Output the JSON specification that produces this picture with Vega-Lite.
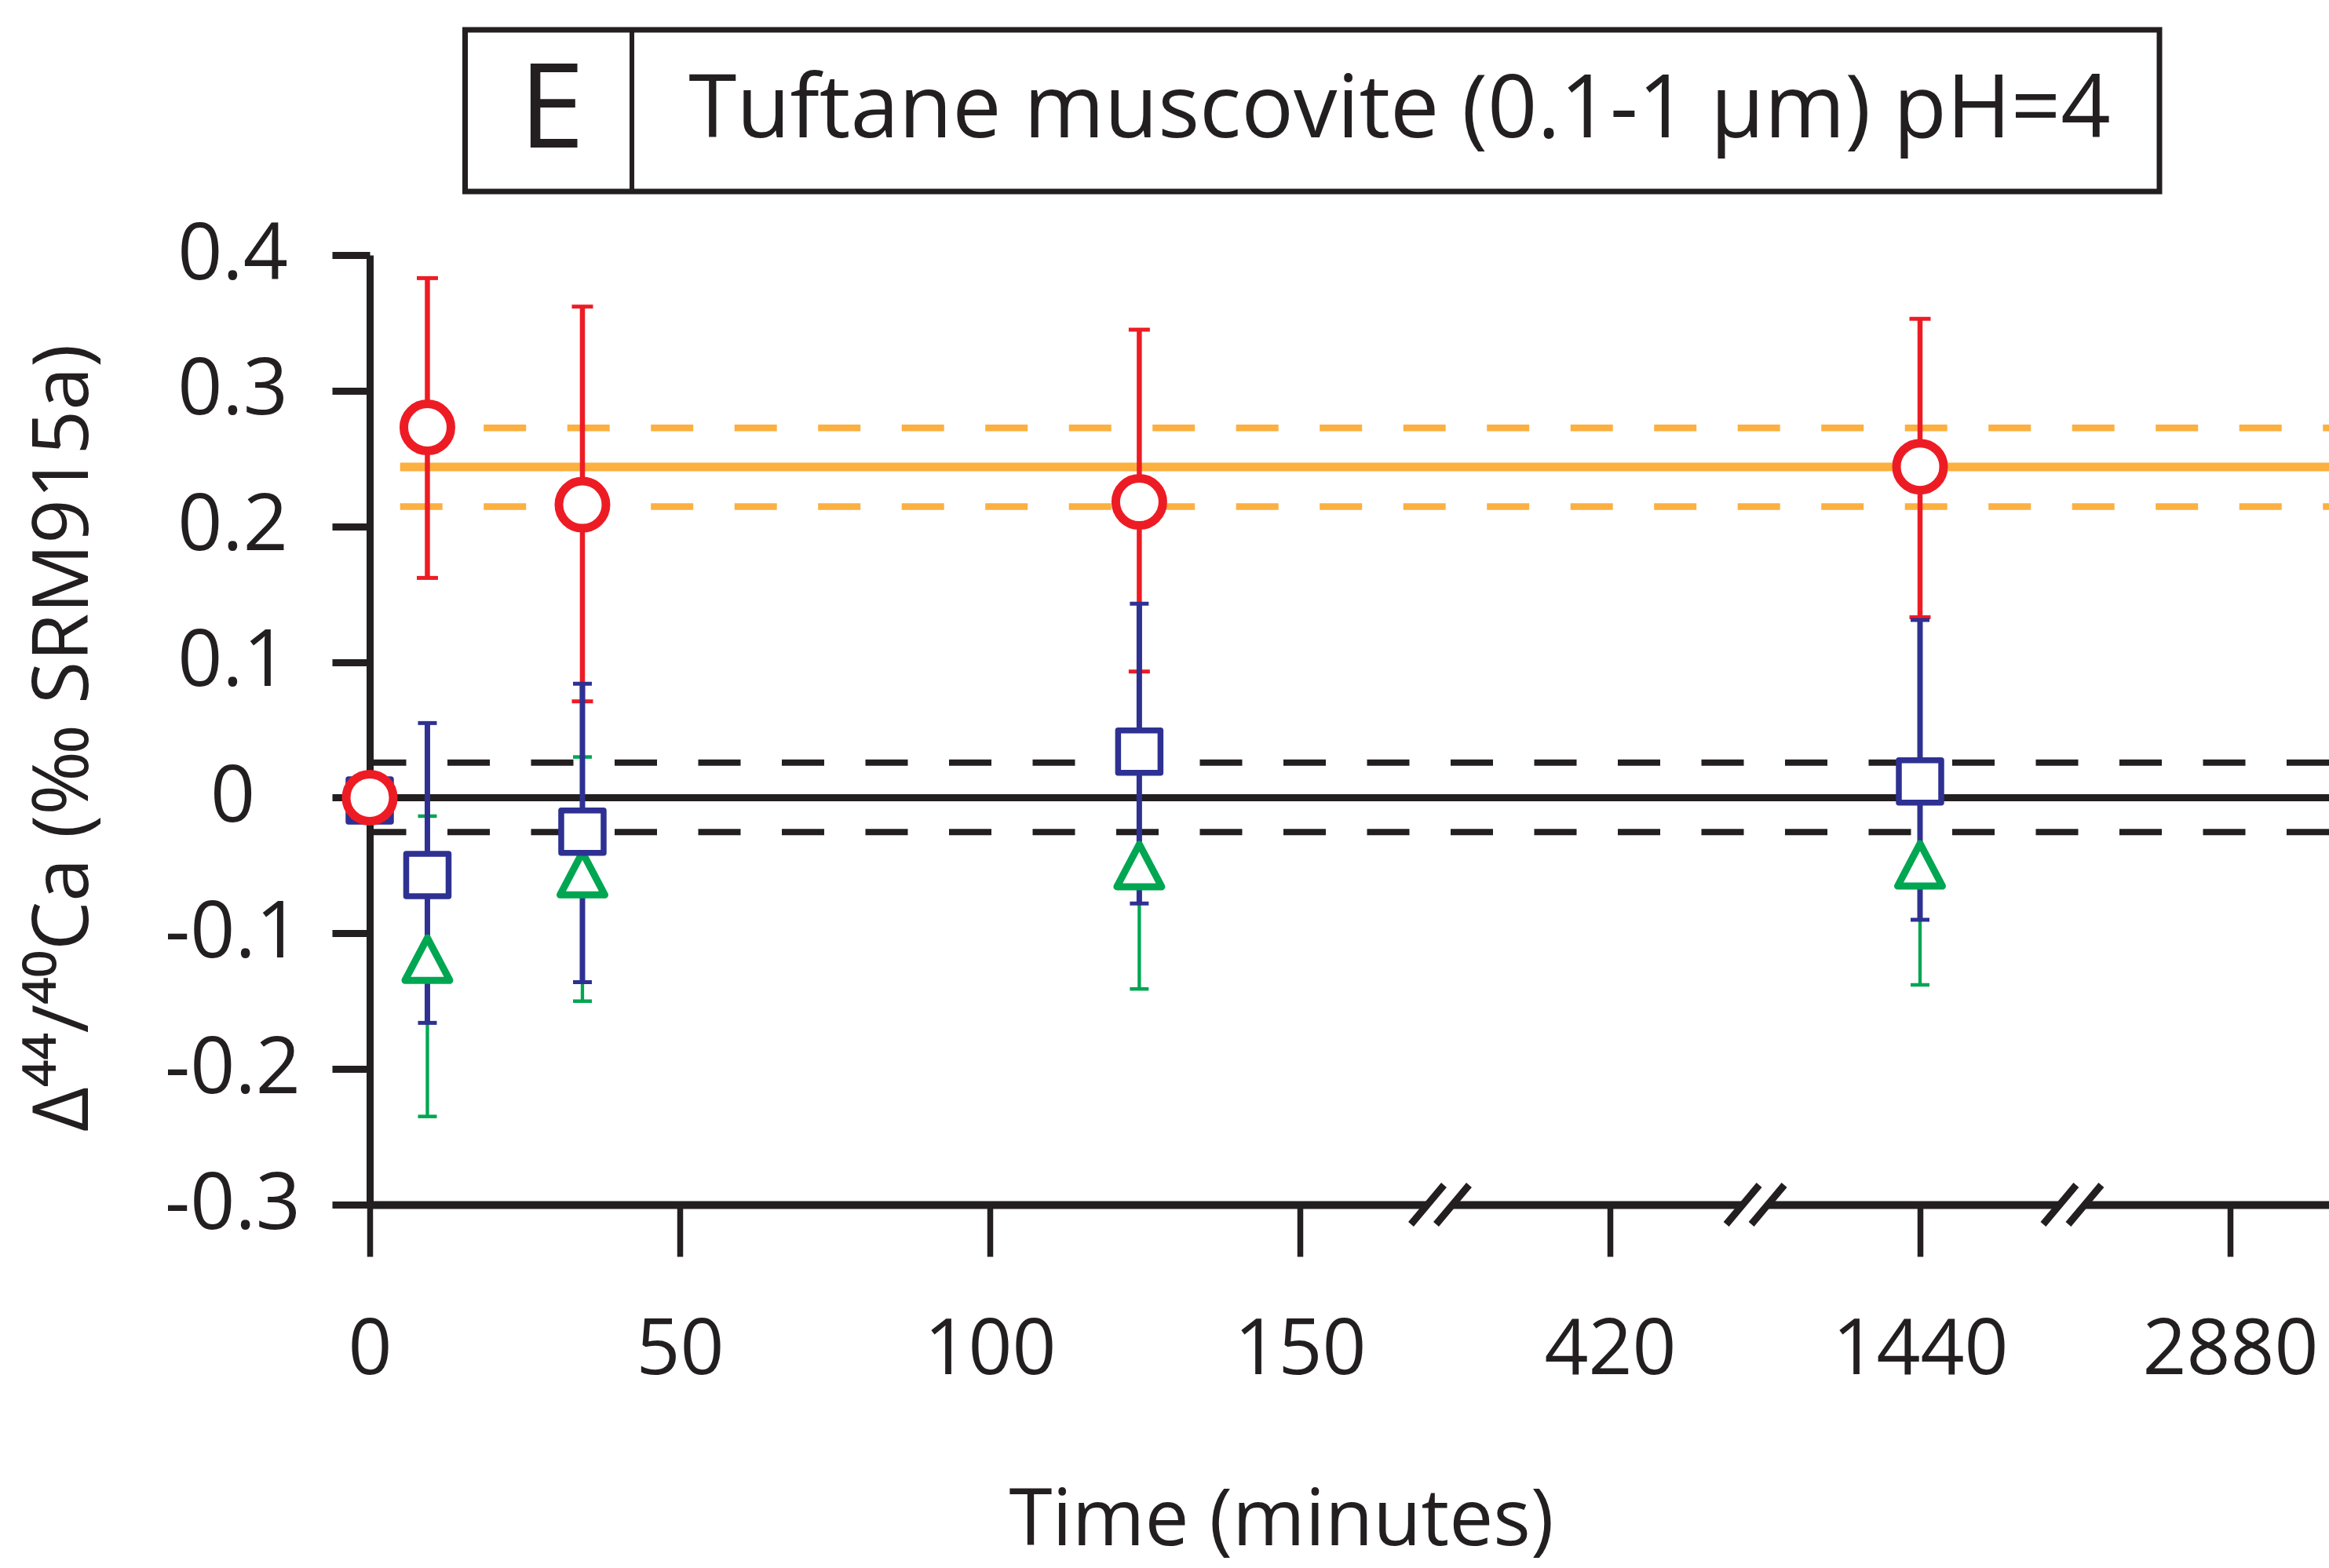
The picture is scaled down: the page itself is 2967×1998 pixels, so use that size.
{
  "$schema": "https://vega.github.io/schema/vega-lite/v6.json",
  "autosize": {"type": "none"},
  "padding": {"left": 471, "top": 325, "right": 0, "bottom": 463},
  "width": 2496,
  "height": 1210,
  "background": "white",
  "config": {"view": {"stroke": null}, "font": "Open Sans"},
  "datasets": {
    "measurements": [
      {"series": "A", "t": 0, "delta": 0, "lo": null, "hi": null},
      {"series": "A", "t": 9.3, "delta": 0.273, "lo": 0.162, "hi": 0.383},
      {"series": "A", "t": 34.3, "delta": 0.216, "lo": 0.071, "hi": 0.362},
      {"series": "A", "t": 124.1, "delta": 0.218, "lo": 0.093, "hi": 0.345},
      {"series": "A", "t": 1440, "delta": 0.244, "lo": 0.133, "hi": 0.353},
      {"series": "B", "t": 0, "delta": -0.002, "lo": null, "hi": null},
      {"series": "B", "t": 9.3, "delta": -0.057, "lo": -0.166, "hi": 0.055},
      {"series": "B", "t": 34.3, "delta": -0.025, "lo": -0.136, "hi": 0.084},
      {"series": "B", "t": 124.1, "delta": 0.034, "lo": -0.078, "hi": 0.143},
      {"series": "B", "t": 1440, "delta": 0.012, "lo": -0.09, "hi": 0.131},
      {"series": "C", "t": 9.3, "delta": -0.119, "lo": -0.235, "hi": -0.0136},
      {"series": "C", "t": 34.3, "delta": -0.056, "lo": -0.15, "hi": 0.03},
      {"series": "C", "t": 124.1, "delta": -0.05, "lo": -0.141, "hi": 0.041},
      {"series": "C", "t": 1440, "delta": -0.0495, "lo": -0.138, "hi": 0.025}
    ],
    "references": [
      {"series": "standard", "kind": "mean", "delta": 0},
      {"series": "standard", "kind": "bound", "delta": 0.0258},
      {"series": "standard", "kind": "bound", "delta": -0.0253},
      {"series": "muscovite", "kind": "mean", "delta": 0.2438},
      {"series": "muscovite", "kind": "bound", "delta": 0.2726},
      {"series": "muscovite", "kind": "bound", "delta": 0.2146}
    ],
    "breaks": [{"t": 272}, {"t": 898}, {"t": 2147}],
    "header": [{"panel": "E", "title": "Tuftane muscovite (0.1-1 µm) pH=4"}]
  },
  "layer": [
    {
      "data": {"name": "references"},
      "transform": [{"filter": "datum.series === 'standard' && datum.kind === 'mean'"}],
      "mark": {"type": "rule", "color": "#231F20", "strokeWidth": 9},
      "encoding": {
        "y": {"field": "delta", "type": "quantitative", "scale": {"type": "linear", "domain": [-0.3, 0.4], "nice": false, "zero": false}}
      }
    },
    {
      "data": {"name": "references"},
      "transform": [{"filter": "datum.series === 'standard' && datum.kind === 'bound'"}],
      "mark": {"type": "rule", "color": "#231F20", "strokeWidth": 8, "strokeDash": [54, 52.5]},
      "encoding": {
        "y": {"field": "delta", "type": "quantitative", "scale": {"type": "linear", "domain": [-0.3, 0.4], "nice": false, "zero": false}}
      }
    },
    {
      "data": {"name": "references"},
      "transform": [{"filter": "datum.series === 'muscovite' && datum.kind === 'mean'"}],
      "mark": {"type": "rule", "color": "#FBB040", "strokeWidth": 11},
      "encoding": {
        "x": {"datum": 4.9, "type": "quantitative", "scale": {"type": "linear", "domain": [0, 150, 420, 1440, 2880, 3340], "range": [0, 1185, 1580, 1975, 2370, 2496], "nice": false, "zero": false}},
        "x2": {"datum": 3340},
        "y": {"field": "delta", "type": "quantitative", "scale": {"type": "linear", "domain": [-0.3, 0.4], "nice": false, "zero": false}}
      }
    },
    {
      "data": {"name": "references"},
      "transform": [{"filter": "datum.series === 'muscovite' && datum.kind === 'bound'"}],
      "mark": {"type": "rule", "color": "#FBB040", "strokeWidth": 8.5, "strokeDash": [54, 52.5]},
      "encoding": {
        "x": {"datum": 4.9, "type": "quantitative", "scale": {"type": "linear", "domain": [0, 150, 420, 1440, 2880, 3340], "range": [0, 1185, 1580, 1975, 2370, 2496], "nice": false, "zero": false}},
        "x2": {"datum": 3340},
        "y": {"field": "delta", "type": "quantitative", "scale": {"type": "linear", "domain": [-0.3, 0.4], "nice": false, "zero": false}}
      }
    },
    {
      "data": {"name": "measurements"},
      "transform": [{"filter": "datum.series === 'A' && isValid(datum.lo)"}],
      "mark": {"type": "rule", "color": "#ED1C24", "strokeWidth": 6.5, "opacity": 1},
      "encoding": {
        "x": {"field": "t", "type": "quantitative", "scale": {"type": "linear", "domain": [0, 150, 420, 1440, 2880, 3340], "range": [0, 1185, 1580, 1975, 2370, 2496], "nice": false, "zero": false}},
        "y": {"field": "lo", "type": "quantitative", "scale": {"type": "linear", "domain": [-0.3, 0.4], "nice": false, "zero": false}},
        "y2": {"field": "hi"}
      }
    },
    {
      "data": {"name": "measurements"},
      "transform": [{"filter": "datum.series === 'A' && isValid(datum.lo)"}, {"fold": ["lo", "hi"], "as": ["end", "bound"]}],
      "mark": {"type": "tick", "orient": "horizontal", "size": 27, "thickness": 5, "color": "#ED1C24", "opacity": 1},
      "encoding": {
        "x": {"field": "t", "type": "quantitative", "scale": {"type": "linear", "domain": [0, 150, 420, 1440, 2880, 3340], "range": [0, 1185, 1580, 1975, 2370, 2496], "nice": false, "zero": false}},
        "y": {"field": "bound", "type": "quantitative", "scale": {"type": "linear", "domain": [-0.3, 0.4], "nice": false, "zero": false}}
      }
    },
    {
      "data": {"name": "measurements"},
      "transform": [{"filter": "datum.series === 'C' && isValid(datum.lo)"}],
      "mark": {"type": "rule", "color": "#00A651", "strokeWidth": 4.3, "opacity": 1},
      "encoding": {
        "x": {"field": "t", "type": "quantitative", "scale": {"type": "linear", "domain": [0, 150, 420, 1440, 2880, 3340], "range": [0, 1185, 1580, 1975, 2370, 2496], "nice": false, "zero": false}},
        "y": {"field": "lo", "type": "quantitative", "scale": {"type": "linear", "domain": [-0.3, 0.4], "nice": false, "zero": false}},
        "y2": {"field": "hi"}
      }
    },
    {
      "data": {"name": "measurements"},
      "transform": [{"filter": "datum.series === 'C' && isValid(datum.lo)"}, {"fold": ["lo", "hi"], "as": ["end", "bound"]}],
      "mark": {"type": "tick", "orient": "horizontal", "size": 24, "thickness": 4.5, "color": "#00A651", "opacity": 1},
      "encoding": {
        "x": {"field": "t", "type": "quantitative", "scale": {"type": "linear", "domain": [0, 150, 420, 1440, 2880, 3340], "range": [0, 1185, 1580, 1975, 2370, 2496], "nice": false, "zero": false}},
        "y": {"field": "bound", "type": "quantitative", "scale": {"type": "linear", "domain": [-0.3, 0.4], "nice": false, "zero": false}}
      }
    },
    {
      "data": {"name": "measurements"},
      "transform": [{"filter": "datum.series === 'B' && isValid(datum.lo)"}],
      "mark": {"type": "rule", "color": "#2E3192", "strokeWidth": 7, "opacity": 1},
      "encoding": {
        "x": {"field": "t", "type": "quantitative", "scale": {"type": "linear", "domain": [0, 150, 420, 1440, 2880, 3340], "range": [0, 1185, 1580, 1975, 2370, 2496], "nice": false, "zero": false}},
        "y": {"field": "lo", "type": "quantitative", "scale": {"type": "linear", "domain": [-0.3, 0.4], "nice": false, "zero": false}},
        "y2": {"field": "hi"}
      }
    },
    {
      "data": {"name": "measurements"},
      "transform": [{"filter": "datum.series === 'B' && isValid(datum.lo)"}, {"fold": ["lo", "hi"], "as": ["end", "bound"]}],
      "mark": {"type": "tick", "orient": "horizontal", "size": 24, "thickness": 5, "color": "#2E3192", "opacity": 1},
      "encoding": {
        "x": {"field": "t", "type": "quantitative", "scale": {"type": "linear", "domain": [0, 150, 420, 1440, 2880, 3340], "range": [0, 1185, 1580, 1975, 2370, 2496], "nice": false, "zero": false}},
        "y": {"field": "bound", "type": "quantitative", "scale": {"type": "linear", "domain": [-0.3, 0.4], "nice": false, "zero": false}}
      }
    },
    {
      "data": {"name": "measurements"},
      "transform": [{"filter": "datum.series === 'C'"}],
      "mark": {"type": "point", "shape": "M 0 -0.95 L 1 0.95 L -1 0.95 Z", "size": 3250, "filled": true, "fill": "white", "stroke": "#00A651", "strokeWidth": 9, "strokeJoin": "round", "opacity": 1},
      "encoding": {
        "x": {"field": "t", "type": "quantitative", "scale": {"type": "linear", "domain": [0, 150, 420, 1440, 2880, 3340], "range": [0, 1185, 1580, 1975, 2370, 2496], "nice": false, "zero": false}},
        "y": {"field": "delta", "type": "quantitative", "scale": {"type": "linear", "domain": [-0.3, 0.4], "nice": false, "zero": false}}
      }
    },
    {
      "data": {"name": "measurements"},
      "transform": [{"filter": "datum.series === 'B'"}],
      "mark": {"type": "point", "shape": "square", "size": 2916, "filled": true, "fill": "white", "stroke": "#2E3192", "strokeWidth": 7.5, "strokeJoin": "round", "opacity": 1},
      "encoding": {
        "x": {"field": "t", "type": "quantitative", "scale": {"type": "linear", "domain": [0, 150, 420, 1440, 2880, 3340], "range": [0, 1185, 1580, 1975, 2370, 2496], "nice": false, "zero": false}},
        "y": {"field": "delta", "type": "quantitative", "scale": {"type": "linear", "domain": [-0.3, 0.4], "nice": false, "zero": false}}
      }
    },
    {
      "data": {"name": "measurements"},
      "transform": [{"filter": "datum.series === 'A'"}],
      "mark": {"type": "point", "shape": "circle", "size": 3600, "filled": true, "fill": "white", "stroke": "#ED1C24", "strokeWidth": 11, "opacity": 1},
      "encoding": {
        "x": {"field": "t", "type": "quantitative", "scale": {"type": "linear", "domain": [0, 150, 420, 1440, 2880, 3340], "range": [0, 1185, 1580, 1975, 2370, 2496], "nice": false, "zero": false},
          "axis": {
            "values": [0, 50, 100, 150, 420, 1440, 2880],
            "format": "d",
            "title": "Time (minutes)",
            "grid": false,
            "domainWidth": 10, "domainColor": "#231F20",
            "tickSize": 66, "tickWidth": 7.5, "tickColor": "#231F20",
            "labelFont": "Open Sans", "labelFontSize": 98, "labelColor": "#231F20", "labelLimit": 0,
            "labelBaseline": "alphabetic", "labelPadding": 149, "labelFlush": false, "labelOverlap": false,
            "titleFont": "Open Sans", "titleFontSize": 100, "titleFontWeight": "normal", "titleColor": "#231F20",
            "titleBaseline": "alphabetic", "titleX": 1161, "titleY": 433, "titleLimit": 0
          }
        },
        "y": {"field": "delta", "type": "quantitative", "scale": {"type": "linear", "domain": [-0.3, 0.4], "nice": false, "zero": false},
          "axis": {
            "values": [-0.3, -0.2, -0.1, 0, 0.1, 0.2, 0.3, 0.4],
            "labelExpr": "abs(datum.value) < 1e-9 ? '0' : replace(format(datum.value, '.1f'), '−', '-')",
            "title": "Δ⁴⁴/⁴⁰Ca (‰ SRM915a)",
            "grid": false,
            "domainWidth": 9, "domainColor": "#231F20",
            "tickSize": 48, "tickWidth": 9, "tickColor": "#231F20",
            "labelFont": "Open Sans", "labelFontSize": 100, "labelColor": "#231F20", "labelLimit": 0,
            "labelAlign": "center", "labelBaseline": "middle", "labelPadding": 127,
            "titleFont": "Open Sans", "titleFontSize": 99, "titleFontWeight": "normal", "titleColor": "#231F20",
            "titleAngle": 270, "titleBaseline": "alphabetic", "titleAlign": "center", "titleLimit": 0,
            "titleX": -360, "titleY": 615
          }
        }
      }
    },
    {
      "data": {"name": "breaks"},
      "mark": {"type": "point", "shape": "M -0.74 0.5 L 0.1 -0.5 L 0.74 -0.5 L -0.1 0.5 Z", "size": 10000, "filled": true, "fill": "white", "strokeWidth": 0, "opacity": 1},
      "encoding": {
        "x": {"field": "t", "type": "quantitative", "scale": {"type": "linear", "domain": [0, 150, 420, 1440, 2880, 3340], "range": [0, 1185, 1580, 1975, 2370, 2496], "nice": false, "zero": false}},
        "y": {"datum": -0.3, "type": "quantitative", "scale": {"type": "linear", "domain": [-0.3, 0.4], "nice": false, "zero": false}}
      }
    },
    {
      "data": {"name": "breaks"},
      "mark": {"type": "point", "shape": "M -0.74 0.5 L 0.1 -0.5 M -0.1 0.5 L 0.74 -0.5", "size": 10000, "filled": false, "stroke": "#231F20", "strokeWidth": 9, "opacity": 1},
      "encoding": {
        "x": {"field": "t", "type": "quantitative", "scale": {"type": "linear", "domain": [0, 150, 420, 1440, 2880, 3340], "range": [0, 1185, 1580, 1975, 2370, 2496], "nice": false, "zero": false}},
        "y": {"datum": -0.3, "type": "quantitative", "scale": {"type": "linear", "domain": [-0.3, 0.4], "nice": false, "zero": false}}
      }
    },
    {
      "data": {"name": "header"},
      "mark": {"type": "rect", "fill": "white", "stroke": "#231F20", "strokeWidth": 7},
      "encoding": {
        "x": {"datum": 15.38, "type": "quantitative", "scale": {"type": "linear", "domain": [0, 150, 420, 1440, 2880, 3340], "range": [0, 1185, 1580, 1975, 2370, 2496], "nice": false, "zero": false}},
        "x2": {"datum": 2551.9},
        "y": {"datum": 0.566, "type": "quantitative", "scale": {"type": "linear", "domain": [-0.3, 0.4], "nice": false, "zero": false}},
        "y2": {"datum": 0.4469}
      }
    },
    {
      "data": {"name": "header"},
      "mark": {"type": "rule", "stroke": "#231F20", "strokeWidth": 6},
      "encoding": {
        "x": {"datum": 42.28, "type": "quantitative", "scale": {"type": "linear", "domain": [0, 150, 420, 1440, 2880, 3340], "range": [0, 1185, 1580, 1975, 2370, 2496], "nice": false, "zero": false}},
        "y": {"datum": 0.566, "type": "quantitative", "scale": {"type": "linear", "domain": [-0.3, 0.4], "nice": false, "zero": false}},
        "y2": {"datum": 0.4469}
      }
    },
    {
      "data": {"name": "header"},
      "mark": {"type": "text", "font": "Open Sans", "fontSize": 150, "align": "center", "baseline": "alphabetic", "color": "#231F20"},
      "encoding": {
        "text": {"field": "panel"},
        "x": {"datum": 29.37, "type": "quantitative", "scale": {"type": "linear", "domain": [0, 150, 420, 1440, 2880, 3340], "range": [0, 1185, 1580, 1975, 2370, 2496], "nice": false, "zero": false}},
        "y": {"datum": 0.4793, "type": "quantitative", "scale": {"type": "linear", "domain": [-0.3, 0.4], "nice": false, "zero": false}}
      }
    },
    {
      "data": {"name": "header"},
      "mark": {"type": "text", "font": "Open Sans", "fontSize": 111, "align": "center", "baseline": "alphabetic", "color": "#231F20"},
      "encoding": {
        "text": {"field": "title"},
        "x": {"datum": 236.8, "type": "quantitative", "scale": {"type": "linear", "domain": [0, 150, 420, 1440, 2880, 3340], "range": [0, 1185, 1580, 1975, 2370, 2496], "nice": false, "zero": false}},
        "y": {"datum": 0.4868, "type": "quantitative", "scale": {"type": "linear", "domain": [-0.3, 0.4], "nice": false, "zero": false}}
      }
    }
  ]
}
